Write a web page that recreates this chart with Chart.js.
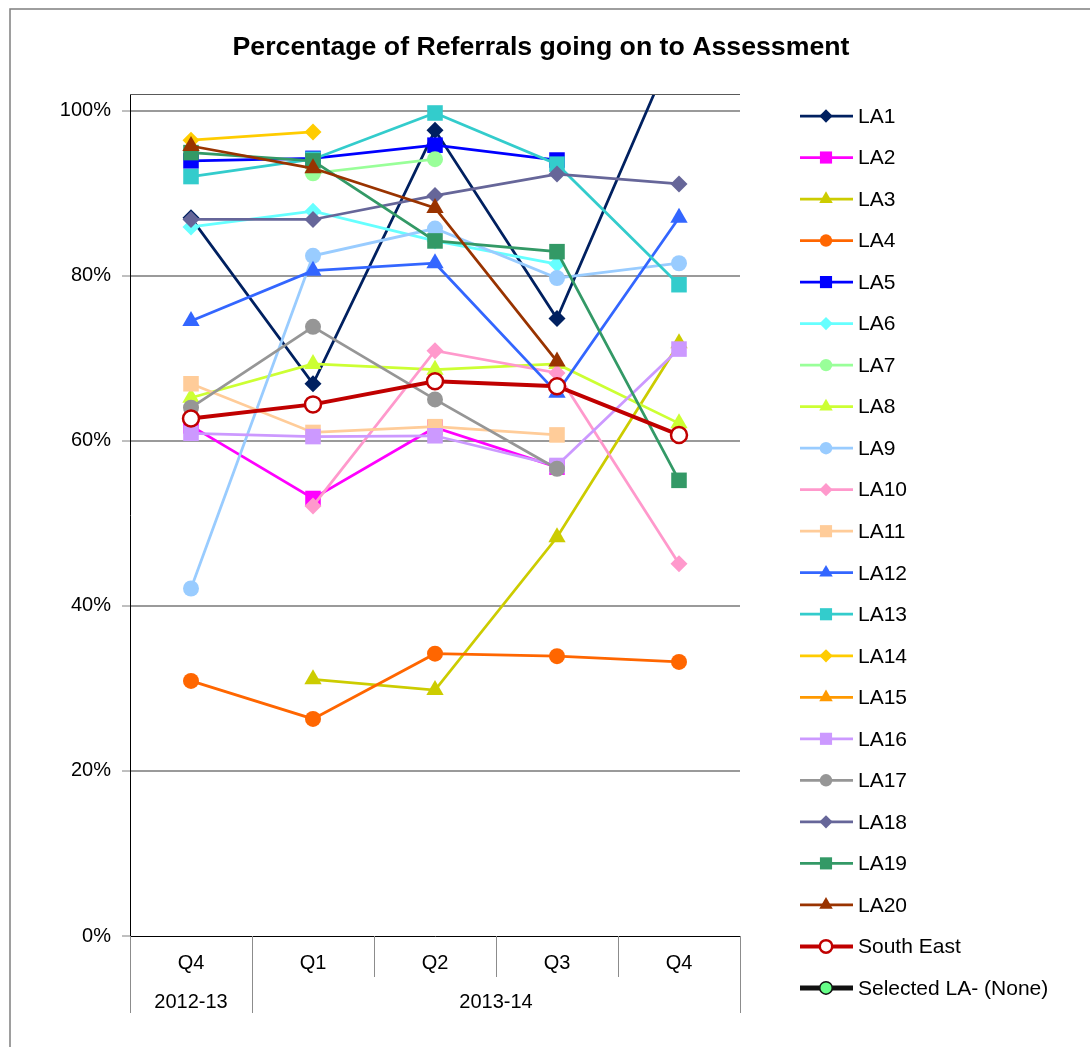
<!DOCTYPE html>
<html>
<head>
<meta charset="utf-8">
<title>Percentage of Referrals going on to Assessment</title>
<script src="https://cdn.jsdelivr.net/npm/chart.js@4.4.0/dist/chart.umd.min.js"></script>
<style>
  html, body { margin: 0; padding: 0; background: #fff; overflow: hidden; }
  #wrap { position: relative; width: 1090px; height: 1047px; }
</style>
</head>
<body>
<div id="wrap"><canvas id="refChart"></canvas></div>
<script>
// ===== DATA (percent) =====
const quarters = ['Q4', 'Q1', 'Q2', 'Q3', 'Q4'];
const yearGroups = [
  { label: '2012-13', from: 0, to: 0 },
  { label: '2013-14', from: 1, to: 4 }
];
const yTicks = [0, 20, 40, 60, 80, 100];

const la1  = [87.0, 66.9, 97.6, 74.8, 109.0];
const la2  = [61.8, 53.0, 61.6, 56.8, null];
const la3  = [null, 31.1, 29.8, 48.3, 71.8];
const la4  = [30.9, 26.3, 34.2, 33.9, 33.2];
const la5  = [93.9, 94.2, 95.8, 94.0, null];
const la6  = [85.9, 87.8, 84.2, 81.4, null];
const la7  = [null, 92.4, 94.1, null, null];
const la8  = [65.2, 69.3, 68.6, 69.3, 62.1];
const la9  = [42.1, 82.4, 85.7, 79.7, 81.5];
const la10 = [null, 52.1, 70.9, 68.2, 45.1];
const la11 = [66.9, 61.0, 61.7, 60.7, null];
const la12 = [74.5, 80.6, 81.5, 65.8, 87.0];
const la13 = [92.0, 94.1, 99.7, 93.5, 78.9];
const la14 = [96.4, 97.4, null, null, null];
const la15 = [null, null, null, null, null];
const la16 = [60.9, 60.5, 60.6, 57.0, 71.1];
const la17 = [64.0, 73.8, 65.0, 56.6, null];
const la18 = [86.8, 86.8, 89.7, 92.3, 91.1];
const la19 = [94.9, 93.9, 84.2, 82.9, 55.2];
const la20 = [95.7, 93.0, 88.2, 69.6, null];
const southEast  = [62.7, 64.4, 67.2, 66.6, 60.7];
const selectedLA = [null, null, null, null, null];

const seriesNames = ['LA1','LA2','LA3','LA4','LA5','LA6','LA7','LA8','LA9','LA10',
  'LA11','LA12','LA13','LA14','LA15','LA16','LA17','LA18','LA19','LA20'];
const seriesValues = [la1, la2, la3, la4, la5, la6, la7, la8, la9, la10,
  la11, la12, la13, la14, la15, la16, la17, la18, la19, la20];

// ===== STYLES =====
const seriesColors = ['#002060','#FF00FF','#CCCC00','#FF6600','#0000FF','#66FFFF','#99FF99',
  '#CCFF33','#99CCFF','#FF99CC','#FFCC99','#3366FF','#33CCCC','#FFCC00','#FF9900',
  '#CC99FF','#969696','#666699','#339966','#993300'];
const seriesMarkers = ['rectRot','rect','triangle','circle','rect','rectRot','circle',
  'triangle','circle','rectRot','rect','triangle','rect','rectRot','triangle',
  'rect','circle','rectRot','rect','triangle'];
const markerRadius = { circle: 8, rect: 11, rectRot: 8.5, triangle: 10 };
const FONT = "'Liberation Sans', Arial, sans-serif";

const datasets = seriesNames.map((name, i) => ({
  label: name,
  data: seriesValues[i],
  borderColor: seriesColors[i],
  backgroundColor: seriesColors[i],
  borderWidth: 2.75,
  pointStyle: seriesMarkers[i],
  pointRadius: markerRadius[seriesMarkers[i]],
  pointBackgroundColor: seriesColors[i],
  pointBorderColor: seriesColors[i],
  pointBorderWidth: 0,
  tension: 0,
  clip: 0
}));
datasets.push({
  label: 'South East',
  data: southEast,
  borderColor: '#C00000',
  backgroundColor: '#C00000',
  borderWidth: 4,
  pointStyle: 'circle',
  pointRadius: 8,
  pointBackgroundColor: '#FFFFFF',
  pointBorderColor: '#C00000',
  pointBorderWidth: 2.5,
  clip: 0
});
datasets.push({
  label: 'Selected LA- (None)',
  data: selectedLA,
  borderColor: '#111111',
  backgroundColor: '#111111',
  borderWidth: 5,
  pointStyle: 'circle',
  pointRadius: 8,
  pointBackgroundColor: '#66FF88',
  pointBorderColor: '#111111',
  pointBorderWidth: 1.5,
  clip: 0
});
// later series sit on top, as in the original
datasets.forEach((ds, i) => { ds.order = datasets.length - i; });

// ===== FRAME, TITLE, CATEGORY AXIS, LEGEND =====
const framePlugin = {
  id: 'frame',
  beforeDraw(chart) {
    const { ctx } = chart;
    ctx.save();
    ctx.fillStyle = '#fff';
    ctx.fillRect(0, 0, chart.width, chart.height);
    ctx.strokeStyle = '#7f7f7f';
    ctx.lineWidth = 1.5;
    ctx.strokeRect(10, 9, chart.width + 50, chart.height + 50);
    ctx.restore();
  },
  afterDraw(chart) {
    const { ctx, chartArea: a } = chart;
    ctx.save();
    // title
    ctx.fillStyle = '#000';
    ctx.font = `bold 26.7px ${FONT}`;
    ctx.textAlign = 'center';
    ctx.textBaseline = 'middle';
    ctx.fillText('Percentage of Referrals going on to Assessment', 541, 48);

    // plot top border
    ctx.strokeStyle = '#595959';
    ctx.lineWidth = 1;
    ctx.beginPath();
    ctx.moveTo(a.left, a.top + 0.5);
    ctx.lineTo(a.right, a.top + 0.5);
    ctx.stroke();

    // two-level category labels
    const xs = chart.scales.x;
    const centers = quarters.map((_, i) => xs.getPixelForValue(i));
    const bounds = [a.left];
    for (let i = 0; i < centers.length - 1; i++) bounds.push((centers[i] + centers[i + 1]) / 2);
    bounds.push(a.right);
    const groupEdges = new Set();
    yearGroups.forEach(g => { groupEdges.add(g.from); groupEdges.add(g.to + 1); });
    ctx.strokeStyle = '#8c8c8c';
    ctx.lineWidth = 1;
    bounds.forEach((bx, i) => {
      const x = Math.round(bx) + 0.5;
      ctx.beginPath();
      ctx.moveTo(x, a.bottom);
      ctx.lineTo(x, a.bottom + (groupEdges.has(i) ? 77 : 41));
      ctx.stroke();
    });
    ctx.fillStyle = '#000';
    ctx.font = `20px ${FONT}`;
    quarters.forEach((q, i) => ctx.fillText(q, centers[i], a.bottom + 27));
    yearGroups.forEach(g => {
      const cx = (bounds[g.from] + bounds[g.to + 1]) / 2;
      ctx.fillText(g.label, cx, a.bottom + 66);
    });

    // legend
    const top = 116, step = 41.52;
    ctx.textAlign = 'left';
    ctx.font = `21px ${FONT}`;
    chart.data.datasets.forEach((ds, i) => {
      const y = top + i * step;
      ctx.strokeStyle = ds.borderColor;
      ctx.lineWidth = ds.borderWidth;
      ctx.beginPath();
      ctx.moveTo(800, y);
      ctx.lineTo(853, y);
      ctx.stroke();
      ctx.fillStyle = ds.pointBackgroundColor;
      ctx.strokeStyle = ds.pointBorderColor;
      ctx.lineWidth = ds.pointBorderWidth;
      Chart.helpers.drawPoint(ctx, {
        pointStyle: ds.pointStyle,
        radius: ds.pointRadius * 0.78,
        rotation: 0,
        borderWidth: ds.pointBorderWidth
      }, 826, y);
      ctx.fillStyle = '#000';
      ctx.fillText(ds.label, 858, y + 1);
    });
    ctx.restore();
  }
};

// ===== CHART =====
new Chart(document.getElementById('refChart'), {
  type: 'line',
  data: { labels: quarters, datasets },
  options: {
    responsive: true,
    maintainAspectRatio: false,
    animation: false,
    events: [],
    layout: { padding: { top: 94, left: 10, right: 350, bottom: 0 } },
    plugins: { legend: { display: false }, title: { display: false }, tooltip: { enabled: false } },
    scales: {
      x: {
        type: 'category',
        offset: true,
        grid: { display: false },
        border: { display: true, color: '#000', width: 1 },
        ticks: { display: false },
        afterFit: s => { s.height = 111; }
      },
      y: {
        min: 0,
        max: 102,
        afterBuildTicks: s => { s.ticks = yTicks.map(v => ({ value: v })); },
        grid: {
          color: c => (c.tick && c.tick.value === 0 ? 'rgba(0,0,0,0)' : '#9a9a9a'),
          lineWidth: 2,
          tickLength: 8,
          tickColor: '#808080',
          tickWidth: 1
        },
        border: { display: true, color: '#000', width: 1 },
        ticks: {
          color: '#000',
          padding: 11,
          font: { family: FONT, size: 20 },
          callback: v => v + '%'
        },
        afterFit: s => { s.width = 120; }
      }
    }
  },
  plugins: [framePlugin]
});
</script>
</body>
</html>
